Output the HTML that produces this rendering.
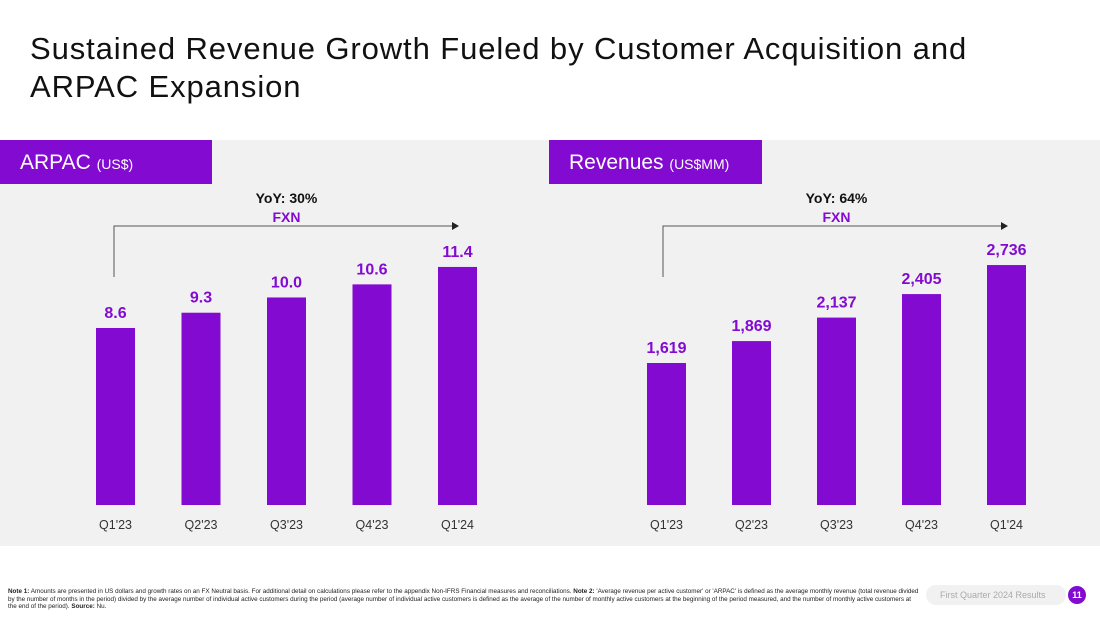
<!DOCTYPE html>
<html><head><meta charset="utf-8"><style>
body{margin:0;width:1100px;height:619px;background:#fff;font-family:"Liberation Sans",sans-serif;position:relative;overflow:hidden}
.t{position:absolute;left:30px;top:30px;font-size:31px;letter-spacing:0.9px;line-height:38px;color:#111}
.panel{position:absolute;left:0;top:140px;width:1100px;height:406px;background:#f2f1f1}
.hdr{position:absolute;top:140px;height:44px;background:#820ad1;color:#fff;font-size:21px;line-height:46px;box-sizing:border-box;padding-left:20px}
.hdr small{font-size:14px}
.foot{position:absolute;left:8px;top:588px;width:912px;font-size:6.3px;line-height:7.6px;color:#222}
.pill{position:absolute;left:926px;top:585px;width:140px;height:20px;border-radius:10px;background:#f2f1f1;color:#aaa;font-size:9px;line-height:20px;padding-left:14px;box-sizing:border-box}
.num{position:absolute;left:1068px;top:586px;width:18px;height:18px;border-radius:9px;background:#820ad1;color:#fff;font-size:9px;font-weight:bold;text-align:center;line-height:18px}
svg{position:absolute;left:0;top:0}
</style></head><body>
<div class="t">Sustained Revenue Growth Fueled by Customer Acquisition and<br>ARPAC Expansion</div>
<div class="panel"></div>
<div class="hdr" style="left:0;width:212px">ARPAC <small>(US$)</small></div>
<div class="hdr" style="left:549px;width:213px">Revenues <small>(US$MM)</small></div>
<svg id="c" width="1100" height="619"></svg>
<div class="foot"><b>Note 1:</b> Amounts are presented in US dollars and growth rates on an FX Neutral basis. For additional detail on calculations please refer to the appendix Non-IFRS Financial measures and reconciliations. <b>Note 2:</b> 'Average revenue per active customer' or 'ARPAC' is defined as the average monthly revenue (total revenue divided by the number of months in the period) divided by the average number of individual active customers during the period (average number of individual active customers is defined as the average of the number of monthly active customers at the beginning of the period measured, and the number of monthly active customers at the end of the period). <b>Source:</b> Nu.</div>
<div class="pill">First Quarter 2024 Results</div>
<div class="num">11</div>
<script>
const categories=["Q1'23","Q2'23","Q3'23","Q4'23","Q1'24"];
const arpacValues=[8.6,9.3,10.0,10.6,11.4];
const arpacLabels=["8.6","9.3","10.0","10.6","11.4"];
const revenueValues=[1619,1869,2137,2405,2736];
const revenueLabels=["1,619","1,869","2,137","2,405","2,736"];
const svg=document.getElementById('c');
const NS='http://www.w3.org/2000/svg';
function mk(t,a){const e=document.createElementNS(NS,t);for(const k in a)e.setAttribute(k,a[k]);svg.appendChild(e);return e;}
const base=505;
function draw(vals,labels,x0,step,yf,name,yoy,arrowX0,arrowX1){
  vals.forEach((v,i)=>{
    const x=x0+i*step,y=yf(v);
    const r=mk('rect',{x:x,y:y,width:39,height:base-y,fill:'#820ad1'});
    
    
    const t=mk('text',{x:x+19.5,y:y-10,'text-anchor':'middle','font-size':'16','font-weight':'bold',fill:'#820ad1'});
    t.textContent=labels[i];
    
    
    const c=mk('text',{x:x+19.5,y:529,'text-anchor':'middle','font-size':'12.5',fill:'#333'});
    c.textContent=categories[i];
    
    
  });
  const p=mk('path',{d:`M${arrowX0} 277V226H${arrowX1-6}`,fill:'none',stroke:'#555','stroke-width':'1'});
  
  
  mk('path',{d:`M${arrowX1-7} 222L${arrowX1} 226L${arrowX1-7} 230Z`,fill:'#222'});
  const mid=(x0+x0+4*step+39)/2;
  const a=mk('text',{x:mid,y:203,'text-anchor':'middle','font-size':'14','font-weight':'bold',fill:'#111'});
  a.textContent=yoy;
  
  
  const b=mk('text',{x:mid,y:222,'text-anchor':'middle','font-size':'14','font-weight':'bold',fill:'#820ad1'});
  b.textContent='FXN';
  
  
}
draw(arpacValues,arpacLabels,96,85.5,v=>base-(v-0.48)*21.8,'arpac','YoY: 30%',114,459);
draw(revenueValues,revenueLabels,647,85,v=>base-v*0.0877,'revenue','YoY: 64%',663,1008);
</script>
</body></html>
